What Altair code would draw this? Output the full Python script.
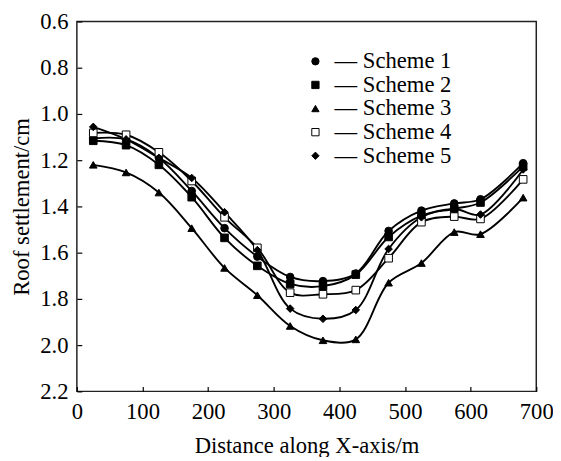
import altair as alt
import pandas as pd

x_m = [25, 75, 125, 175, 225, 275, 325, 375, 425, 475, 525, 575, 615, 680]
scheme1 = [1.106, 1.110, 1.190, 1.333, 1.494, 1.617, 1.705, 1.723, 1.690, 1.506, 1.418, 1.387, 1.369, 1.213]
scheme2 = [1.116, 1.135, 1.220, 1.360, 1.536, 1.657, 1.735, 1.745, 1.695, 1.532, 1.440, 1.410, 1.383, 1.227]
scheme3 = [1.220, 1.253, 1.340, 1.494, 1.666, 1.784, 1.917, 1.979, 1.975, 1.730, 1.645, 1.511, 1.520, 1.362]
scheme4 = [1.082, 1.090, 1.166, 1.290, 1.447, 1.579, 1.773, 1.780, 1.762, 1.624, 1.468, 1.444, 1.454, 1.283]
scheme5 = [1.056, 1.110, 1.190, 1.277, 1.425, 1.589, 1.842, 1.886, 1.848, 1.584, 1.447, 1.411, 1.435, 1.240]
schemes = ["Scheme 1", "Scheme 2", "Scheme 3", "Scheme 4", "Scheme 5"]
shapes = ["circle", "square", "triangle-up", "square", "diamond"]
fills = ["black", "black", "black", "white", "black"]
x_ticks = [0, 100, 200, 300, 400, 500, 600, 700]
y_ticks = [0.6, 0.8, 1.0, 1.2, 1.4, 1.6, 1.8, 2.0, 2.2]

rows = []
for name, vals in zip(schemes, [scheme1, scheme2, scheme3, scheme4, scheme5]):
    for xv, yv in zip(x_m, vals):
        rows.append({"x": xv, "y": yv, "scheme": name})
df = pd.DataFrame(rows)

FONT = "Liberation Serif"
FS = 23
W, H = 467, 376

xscale = alt.Scale(domain=[0, 700], nice=False, zero=False)
yscale = alt.Scale(domain=[0.6, 2.2], reverse=True, nice=False, zero=False)

base = alt.Chart(df)

lines = base.mark_line(interpolate="catmull-rom", color="black", strokeWidth=1.9).encode(
    x=alt.X("x:Q", scale=xscale,
            axis=alt.Axis(title="Distance along X-axis/m", values=x_ticks, ticks=False,
                          domain=False, grid=False, labelPadding=10, titlePadding=11,
                          labelFlush=False, labelOverlap=False)),
    y=alt.Y("y:Q", scale=yscale,
            axis=alt.Axis(title="Roof settlement/cm", values=y_ticks, format=".1f",
                          ticks=False, domain=False, grid=False, labelPadding=9,
                          titlePadding=6, labelFlush=False, labelOverlap=False)),
    detail="scheme:N",
)

leg = alt.Legend(orient="none", legendX=231, legendY=29, title=None, padding=0,
                 labelFont=FONT, labelFontSize=FS, labelColor="black",
                 labelExpr="'— ' + datum.label", symbolStrokeColor="black",
                 symbolStrokeWidth=1, symbolSize=55, rowPadding=0, labelOffset=8)

points = base.mark_point(strokeWidth=1, opacity=1, size=60).encode(
    x=alt.X("x:Q", scale=xscale, axis=None),
    y=alt.Y("y:Q", scale=yscale, axis=None),
    shape=alt.Shape("scheme:N", scale=alt.Scale(domain=schemes, range=shapes), legend=leg),
    fill=alt.Fill("scheme:N", scale=alt.Scale(domain=schemes, range=fills), legend=leg),
    stroke=alt.Stroke("scheme:N", scale=alt.Scale(domain=schemes, range=["black"] * 5), legend=leg),
)

ticks = base.mark_point(opacity=0).encode(
    x=alt.X("x:Q", scale=xscale,
            axis=alt.Axis(orient="top", offset=-H, labels=False, domain=False, grid=False,
                          ticks=True, tickSize=5, tickColor="black", tickWidth=1.2,
                          values=x_ticks, title=None)),
    y=alt.Y("y:Q", scale=yscale,
            axis=alt.Axis(orient="right", offset=-W, labels=False, domain=False, grid=False,
                          ticks=True, tickSize=5, tickColor="black", tickWidth=1.2,
                          values=y_ticks, title=None)),
)

chart = alt.layer(lines, points, ticks).resolve_axis(
    x="independent", y="independent"
).properties(
    width=W, height=H,
    autosize=alt.AutoSizeParams(type="none"),
    padding={"left": 70, "top": 10, "right": 17, "bottom": 63},
    background="white",
).configure_view(
    stroke="#222", strokeWidth=1.5
).configure_axis(
    labelFont=FONT, labelFontSize=FS, labelColor="black",
    titleFont=FONT, titleFontSize=FS, titleColor="black", titleFontWeight="normal",
)

chart.save("out.html", embed_options={"renderer": "svg", "actions": False})
